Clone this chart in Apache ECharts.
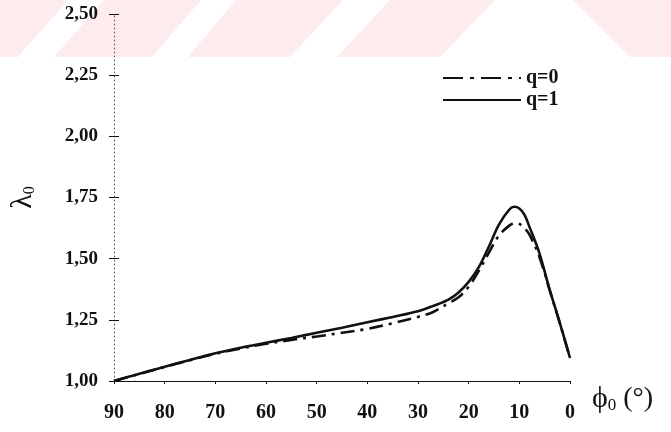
<!DOCTYPE html>
<html>
<head>
<meta charset="utf-8">
<script src="https://cdn.jsdelivr.net/npm/echarts@6/dist/echarts.min.js"></script>
<style>
  html, body { margin: 0; padding: 0; background: #fff; }
  #chart { width: 671px; height: 432px; }
</style>
</head>
<body>
<div id="chart"></div>
<script>
// Initial angle phi0 (degrees), plotted from 90 down to 0
const phi0 = [90, 85, 80, 75, 70, 65, 60, 55, 50, 45, 40, 35, 30, 27, 24, 22, 20, 18, 16, 14, 12, 11, 10, 9, 8, 6, 4, 2, 0];

// lambda0 for q = 0 (dash-dot curve)
const lambdaQ0 = [1.000, 1.029, 1.057, 1.085, 1.111, 1.133, 1.152, 1.168, 1.182, 1.197, 1.213, 1.236, 1.262, 1.282, 1.318, 1.342, 1.385, 1.450, 1.525, 1.595, 1.635, 1.645, 1.642, 1.625, 1.598, 1.505, 1.370, 1.236, 1.094];

// lambda0 for q = 1 (solid curve)
const lambdaQ1 = [1.000, 1.030, 1.058, 1.086, 1.113, 1.136, 1.156, 1.176, 1.197, 1.218, 1.240, 1.262, 1.285, 1.307, 1.333, 1.362, 1.405, 1.465, 1.550, 1.640, 1.700, 1.712, 1.705, 1.680, 1.630, 1.520, 1.372, 1.237, 1.094];

const seriesNames = ['q=0', 'q=1'];

const FONT = '"Liberation Serif", "Times New Roman", serif';
const INK = '#111';

const pairs = (ys) => phi0.map((p, i) => [p, ys[i]]);

const chart = echarts.init(document.getElementById('chart'), null, { renderer: 'canvas' });

// light pink banner with white diagonal gaps across the top edge
const bannerFill = '#fdebee';
const banner = [
  { type: 'rect', silent: true, z: -20, shape: { x: 0, y: 0, width: 671, height: 57 }, style: { fill: bannerFill } },
  { type: 'polygon', silent: true, z: -19, shape: { points: [[18, 57], [54, 57], [104, 0], [68, 0]] }, style: { fill: '#fff' } },
  { type: 'polygon', silent: true, z: -19, shape: { points: [[152, 57], [188, 57], [236, 0], [201, 0]] }, style: { fill: '#fff' } },
  { type: 'polygon', silent: true, z: -19, shape: { points: [[290, 57], [337, 57], [390, 0], [343, 0]] }, style: { fill: '#fff' } },
  { type: 'polygon', silent: true, z: -19, shape: { points: [[440, 57], [630, 57], [573, 0], [495, 0]] }, style: { fill: '#fff' } }
];

const option = {
  backgroundColor: '#fff',
  animation: false,
  graphic: banner,
  grid: { left: 113, right: 101, top: 14, bottom: 51, containLabel: false },
  legend: {
    data: [
      { name: seriesNames[0], lineStyle: { type: [20, 7, 4, 7] } },
      { name: seriesNames[1] }
    ],
    orient: 'vertical',
    left: 437,
    top: 63,
    itemWidth: 78,
    itemHeight: 14,
    itemGap: 2,
    itemStyle: { opacity: 0 },
    textStyle: { fontFamily: FONT, fontSize: 20, fontWeight: 'bold', color: INK, lineHeight: 20 }
  },
  xAxis: {
    type: 'value',
    inverse: true,
    min: 0,
    max: 90,
    interval: 10,
    name: '{a|ϕ}{b|0}{c| (°)}',
    nameLocation: 'start',
    nameGap: 22,
    nameTextStyle: {
      padding: [36, 0, 0, 0],
      rich: {
        a: { fontFamily: FONT, fontSize: 30, color: INK },
        b: { fontFamily: FONT, fontSize: 17, color: INK, padding: [14, 0, 0, 0] },
        c: { fontFamily: FONT, fontSize: 28, color: INK }
      }
    },
    axisLine: { show: true, onZero: false, lineStyle: { color: INK, width: 1.2 } },
    axisTick: { show: true, length: 3, lineStyle: { color: INK, width: 1 } },
    axisLabel: { fontFamily: FONT, fontSize: 20, fontWeight: 'bold', color: INK, margin: 22 },
    splitLine: { show: false }
  },
  yAxis: [
    {
      type: 'value',
      position: 'left',
      min: 1,
      max: 2.5,
      interval: 0.25,
      name: '{a|λ}{b|0}',
      nameLocation: 'middle',
      nameRotate: 90,
      nameGap: 76,
      nameTextStyle: {
        rich: {
          a: { fontFamily: FONT, fontSize: 30, color: INK },
          b: { fontFamily: FONT, fontSize: 16, color: INK, padding: [14, 0, 0, 0] }
        }
      },
      axisLine: { show: true, onZero: false, lineStyle: { color: '#555', width: 1, type: [1, 3] } },
      axisTick: { show: true, length: 5, lineStyle: { color: INK, width: 1 } },
      axisLabel: {
        fontFamily: FONT, fontSize: 19, fontWeight: 'bold', color: INK, margin: 16,
        formatter: (v) => v.toFixed(2).replace('.', ',')
      },
      splitLine: { show: false }
    },
    {
      // inner half of the crossing tick marks
      type: 'value',
      position: 'left',
      min: 1,
      max: 2.5,
      interval: 0.25,
      axisLine: { show: false, onZero: false },
      axisTick: { show: true, inside: true, length: 5, lineStyle: { color: INK, width: 1 } },
      axisLabel: { show: false },
      splitLine: { show: false }
    }
  ],
  series: [
    {
      name: seriesNames[0],
      type: 'line',
      data: pairs(lambdaQ0),
      smooth: 0.35,
      symbol: 'none',
      lineStyle: { color: INK, width: 2.6, type: [14, 6, 3, 6] },
      itemStyle: { color: INK },
      z: 2
    },
    {
      name: seriesNames[1],
      type: 'line',
      data: pairs(lambdaQ1),
      smooth: 0.35,
      symbol: 'none',
      lineStyle: { color: INK, width: 2.6, type: 'solid' },
      itemStyle: { color: INK },
      z: 3
    }
  ]
};

chart.setOption(option);
</script>
</body>
</html>
